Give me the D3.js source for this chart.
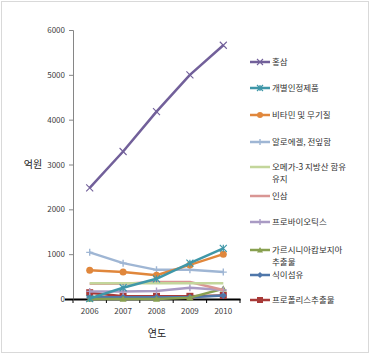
<!DOCTYPE html>
<html><head><meta charset="utf-8">
<script src="https://cdn.jsdelivr.net/npm/d3@7"></script>
<style>body{margin:0;background:#fff}svg{display:block}text{font-family:"Noto Sans CJK KR","Noto Sans",sans-serif}</style>
</head><body><svg id="c" width="372" height="357"></svg>
<script>
const years = ["2006","2007","2008","2009","2010"];
const yTicks = [0,1000,2000,3000,4000,5000,6000];
const seriesNames = ["홍삼","개별인정제품","비타민 및 무기질","알로에겔, 전잎함","오메가-3 지방산 함유 유지","인삼","프로바이오틱스","가르시니아캄보지아 추출물","식이섬유","프로폴리스추출물"];
const legendLines = [["홍삼"],["개별인정제품"],["비타민 및 무기질"],["알로에겔, 전잎함"],["오메가-3 지방산 함유","유지"],["인삼"],["프로바이오틱스"],["가르시니아캄보지아","추출물"],["식이섬유"],["프로폴리스추출물"]];
const hongsam    = [2480,3290,4180,5000,5660];
const gaebyeol   = [10,250,450,800,1130];
const vitamin    = [640,600,530,760,1000];
const aloe       = [1040,800,650,650,600];
const omega3     = [350,350,350,350,350];
const insam      = [340,340,380,380,200];
const probiotics = [170,170,180,250,200];
const garcinia   = [0,0,0,30,230];
const fiber      = [40,40,40,40,80];
const propolis   = [140,60,60,60,80];
const seriesValues = [hongsam,gaebyeol,vitamin,aloe,omega3,insam,probiotics,garcinia,fiber,propolis];
const colors = ["#72609a","#3f97a8","#e0873c","#9fb6d4","#c3d69b","#d99694","#a99bc4","#88a050","#4f77aa","#a83a38"];
const markers = ["x","star","circle","plus","none","none","plus","triangle","diamond","square"];

const svg = d3.select("#c");
svg.append("rect").attr("x",1.5).attr("y",1.5).attr("width",367).attr("height",351)
  .attr("fill","#fff").attr("stroke","#d9d9d9").attr("stroke-width",1);

const x = d3.scaleBand().domain(years).range([73,240]);
const y = d3.scaleLinear().domain([0,6000]).range([299,30]);

const ya = svg.append("g").attr("transform","translate(73,0)")
  .call(d3.axisLeft(y).tickValues(yTicks).tickSize(4).tickPadding(4).tickFormat(d3.format("d")));
ya.select(".domain").attr("stroke","#868686");
ya.selectAll(".tick line").attr("stroke","#868686");
ya.selectAll("text").attr("font-size",8).attr("fill","#404040").attr("font-family","'DejaVu Sans',sans-serif");
ya.selectAll(".tick").filter(d=>d===0).select("line").attr("stroke","#000").attr("stroke-width",2).attr("x2",-8);

const xa = svg.append("g").attr("transform","translate(0,299)")
  .call(d3.axisBottom(x).tickSize(0).tickPadding(9));
xa.select(".domain").attr("stroke","#000").attr("stroke-width",2);
xa.selectAll("text").attr("font-size",8).attr("fill","#404040").attr("font-family","'DejaVu Sans',sans-serif");
svg.append("g").selectAll("line").data(years.concat(["end"])).join("line")
  .attr("x1",(d,i)=>73+i*x.step()).attr("x2",(d,i)=>73+i*x.step())
  .attr("y1",299).attr("y2",303).attr("stroke","#000");

svg.append("text").attr("x",33).attr("y",168).attr("text-anchor","middle").attr("font-size",10).attr("fill","#222").text("억원");
svg.append("text").attr("x",157).attr("y",337).attr("text-anchor","middle").attr("font-size",10).attr("fill","#222").text("연도");

function drawMarker(g, type, cx, cy, col, s){
  if(type==="x"){
    g.append("path").attr("d",`M${cx-s},${cy-s}L${cx+s},${cy+s}M${cx-s},${cy+s}L${cx+s},${cy-s}`).attr("stroke",col).attr("stroke-width",1.1).attr("fill","none");
  } else if(type==="star"){
    g.append("path").attr("d",`M${cx-s},${cy-s}L${cx+s},${cy+s}M${cx-s},${cy+s}L${cx+s},${cy-s}M${cx},${cy-s}L${cx},${cy+s}`).attr("stroke",col).attr("stroke-width",1.2).attr("fill","none");
  } else if(type==="plus"){
    g.append("path").attr("d",`M${cx-s},${cy}L${cx+s},${cy}M${cx},${cy-s}L${cx},${cy+s}`).attr("stroke",col).attr("stroke-width",1.4).attr("fill","none");
  } else if(type==="circle"){
    g.append("circle").attr("cx",cx).attr("cy",cy).attr("r",s).attr("fill",col);
  } else if(type==="square"){
    g.append("rect").attr("x",cx-s).attr("y",cy-s).attr("width",2*s).attr("height",2*s).attr("fill",col);
  } else if(type==="triangle"){
    g.append("path").attr("d",`M${cx},${cy-s}L${cx+s},${cy+s*0.8}L${cx-s},${cy+s*0.8}Z`).attr("fill",col);
  } else if(type==="diamond"){
    g.append("path").attr("d",`M${cx},${cy-s}L${cx+s},${cy}L${cx},${cy+s}L${cx-s},${cy}Z`).attr("fill",col);
  }
}

const line = d3.line().x((d,i)=>x(years[i])+x.bandwidth()/2).y(d=>y(d));
const plot = svg.append("g");
for(let k=seriesValues.length-1;k>=0;k--){
  const g = plot.append("g");
  g.append("path").datum(seriesValues[k]).attr("d",line).attr("fill","none")
    .attr("stroke",colors[k]).attr("stroke-width",2.5).attr("stroke-linejoin","round");
  seriesValues[k].forEach((v,i)=>drawMarker(g,markers[k],x(years[i])+x.bandwidth()/2,y(v),colors[k],3.5));
}

const legY = [62,88,115,142,167,196,222,250,275,300];
const lg = svg.append("g");
seriesNames.forEach((n,k)=>{
  const g = lg.append("g");
  const ly = legY[k];
  g.append("line").attr("x1",250).attr("x2",270).attr("y1",ly).attr("y2",ly).attr("stroke",colors[k]).attr("stroke-width",2.5);
  drawMarker(g,markers[k],260,ly,colors[k],3);
  legendLines[k].forEach((t,j)=>{
    g.append("text").attr("x",272).attr("y",legY[k]+j*12+3).attr("font-size",8.5).attr("fill","#333").text(t);
  });
});
</script></body></html>
